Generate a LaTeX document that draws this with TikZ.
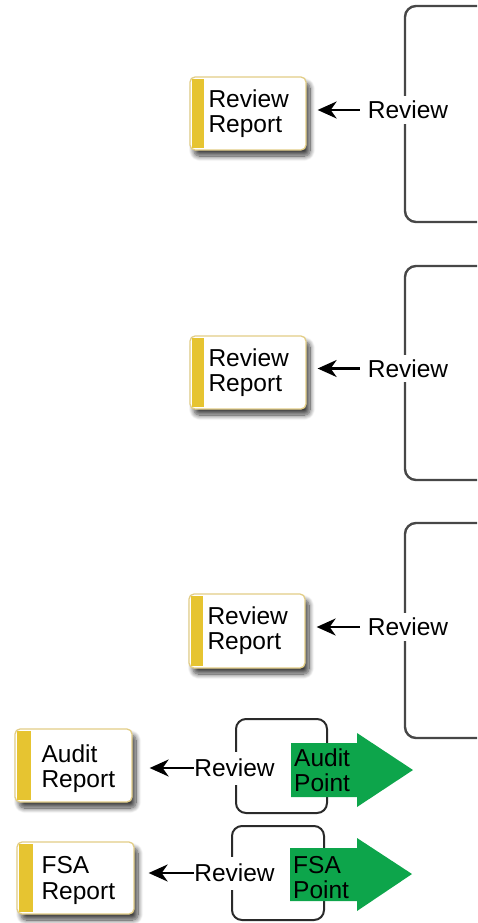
\documentclass[tikz,border=0pt]{standalone}
\usepackage{fontspec}
\setmainfont{Liberation Sans}
\usetikzlibrary{arrows.meta,shadows.blur}

\definecolor{framegray}{HTML}{474747}
\definecolor{darkline}{HTML}{2A2A2A}
\definecolor{boxgold}{HTML}{E2CD86}
\definecolor{bargold}{HTML}{E6C431}
\definecolor{pointgreen}{HTML}{0DA54B}

\tikzset{
  frame/.style={draw=framegray, line width=2.4pt, rounded corners=11pt, inner sep=0pt},
  small frame/.style={draw=darkline, line width=2pt, rounded corners=10pt, inner sep=0pt},
  report/.style={draw=boxgold, line width=1.3pt, fill=white, rounded corners=5pt,
    inner sep=0pt,
    blur shadow={shadow xshift=4pt, shadow yshift=-6pt, shadow blur radius=5pt,
      shadow blur steps=12, shadow opacity=75}},
  rtext/.style={font=\fontsize{24.5}{25.5}\selectfont, align=left, inner sep=0pt,
    anchor=north west},
  revlabel/.style={font=\fontsize{24.5}{26}\selectfont, fill=white, inner ysep=5pt,
    inner xsep=8pt},
  revlabel low/.style={revlabel, inner ysep=7.5pt, inner xsep=0.5pt},
  revarrow/.style={line width=2.3pt, -{Stealth[length=19pt,width=17pt,inset=6pt]}},
  pointtext/.style={font=\fontsize{24.5}{25}\selectfont, align=left, inner sep=0pt,
    anchor=north west},
}

% report card: name, x1, y1, x2, y2, text dx, text dy, bar right offset, text
\newcommand\reportcard[9]{%
  \node[report, minimum width={#4-#2}, minimum height={#5-#3}]
    (#1) at ({(#2+#4)/2},{(#3+#5)/2}) {};
  \fill[bargold] ([shift={(3,3)}]#1.north west) rectangle ([shift={(#8,-3)}]#1.south west);
  \node[rtext] (#1-text) at ([shift={(#6,#7)}]#1.north west) {#9};
}

\begin{document}
\begin{tikzpicture}[x=1pt,y=-1pt]
\clip (0,0) rectangle (477,923);

% large process frames, running off the right edge
\node[frame, minimum width=100, minimum height=216] (f1) at (455,114) {};
\node[frame, minimum width=100, minimum height=214] (f2) at (455,373) {};
\node[frame, minimum width=100, minimum height=215] (f3) at (455,630.5) {};

% small frames holding the point arrows
\node[small frame, minimum width=91, minimum height=94] (sf1) at (281.5,766) {};
\node[small frame, minimum width=92, minimum height=94] (sf2) at (278,873) {};

% green point arrows
\fill[pointgreen] (291,743) -- (357,743) -- (357,733) -- (413,770) -- (357,807)
  -- (357,797) -- (291,797) -- cycle;
\node[pointtext] (ap) at (294,749) {Audit\\Point};
\fill[pointgreen] (290,848) -- (357,848) -- (357,838) -- (412,874) -- (357,911)
  -- (357,901) -- (290,901) -- cycle;
\node[pointtext] (fp) at (293,856) {FSA\\Point};

% report cards
\reportcard{r1}{190}{77}{306}{150}{19}{13}{15}{Review\\Report}
\reportcard{r2}{190}{336}{306}{409}{19}{13}{15}{Review\\Report}
\reportcard{r3}{189}{594}{305}{668}{19}{13}{15}{Review\\Report}
\reportcard{r4}{15}{729}{132}{802}{27}{16}{17}{Audit\\Report}
\reportcard{r5}{17}{842}{134}{914}{25}{15}{17}{FSA\\Report}

% review labels and arrows
\node[revlabel] (l1) at (408,110) {Review};
\node[revlabel] (l2) at (408,368.5) {Review};
\node[revlabel] (l3) at (408,627) {Review};
\node[revlabel low] (l4) at (234.5,768) {Review};
\node[revlabel low] (l5) at (234.5,873) {Review};

\draw[revarrow, shorten >=11pt] (l1.west) -- (l1.west -| r1.east);
\draw[revarrow, shorten >=11pt] (l2.west) -- (l2.west -| r2.east);
\draw[revarrow, shorten >=11pt] (l3.west) -- (l3.west -| r3.east);
\draw[revarrow, shorten >=17pt] (l4.west) -- (l4.west -| r4.east);
\draw[revarrow, shorten >=14pt] (l5.west) -- (l5.west -| r5.east);
\end{tikzpicture}
\end{document}
